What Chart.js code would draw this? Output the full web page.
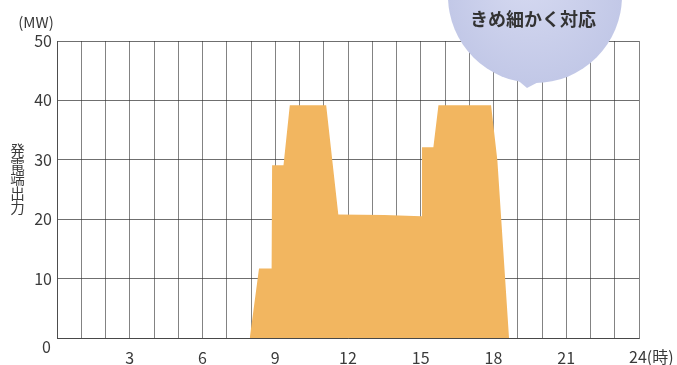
<!DOCTYPE html>
<html>
<head>
<meta charset="utf-8">
<script src="https://cdn.jsdelivr.net/npm/chart.js@4/dist/chart.umd.min.js"></script>
<style>
  html, body { margin: 0; padding: 0; background: #fff; }
  #wrap { width: 677px; height: 365px; position: relative; }
</style>
</head>
<body>
<div id="wrap"><canvas id="c" width="677" height="365"></canvas></div>
<script>
// Generation profile over a day (hour of day -> MW at the generator terminal)
const hours  = [7.95, 8.33, 8.85, 8.87, 9.34, 9.6, 11.1, 11.6, 13.5, 15.03, 15.05, 15.52, 15.73, 17.9, 18.16, 18.64];
const output = [0,    11.7, 11.7, 29.1, 29.1, 39.2, 39.2, 20.8, 20.7, 20.5, 32.1, 32.1, 39.2, 39.2, 29.9, 0];

// Axis ticks
const xTickLabels = [3, 6, 9, 12, 15, 18, 21];
const yTickLabels = [10, 20, 30, 40, 50];

// Texts
const unitLabel = '(MW)';
const yTitleChars = ['発', '電', '端', '出', '力'];
const lastHourLabel = '24(時)';
const bubbleText = 'きめ細かく対応';

const FONT = '"Noto Sans CJK JP", "Noto Sans", sans-serif';
const TEXT = '#3a3a3a';
const GRID = 'rgba(55,55,55,0.62)';

Chart.defaults.font.family = FONT;
Chart.defaults.color = TEXT;

const overlay = {
  id: 'overlay',
  afterDraw(chart) {
    const ctx = chart.ctx;
    const x = chart.scales.x, y = chart.scales.y;
    ctx.save();
    ctx.fillStyle = TEXT;

    // unit label
    ctx.font = '15px ' + FONT;
    ctx.textAlign = 'center';
    ctx.textBaseline = 'middle';
    ctx.fillText(unitLabel, 36, 22);

    // origin label, set below the axis line
    ctx.font = '16px ' + FONT;
    ctx.textAlign = 'right';
    ctx.fillText('0', 51, y.getPixelForValue(0) + 9);

    // last hour label
    ctx.textAlign = 'left';
    ctx.fillText(lastHourLabel, x.getPixelForValue(24) - 10, 357);

    // stacked vertical axis title
    ctx.font = '14.5px ' + FONT;
    ctx.textAlign = 'center';
    yTitleChars.forEach((ch, i) => ctx.fillText(ch, 17.5, 150 + i * 14.4));

    // speech bubble
    const cx = 535, cy = -4, r = 87;
    const g = ctx.createRadialGradient(cx - 10, cy - 20, 10, cx, cy, r);
    g.addColorStop(0, 'rgb(212,216,240)');
    g.addColorStop(1, 'rgb(194,200,231)');
    ctx.fillStyle = g;
    ctx.beginPath();
    ctx.arc(cx, cy, r, 0, Math.PI * 2);
    ctx.fill();
    ctx.beginPath();
    ctx.moveTo(508, 72);
    ctx.lineTo(527, 88);
    ctx.lineTo(546, 78);
    ctx.closePath();
    ctx.fill();

    ctx.fillStyle = '#333';
    ctx.font = 'bold 18px ' + FONT;
    ctx.textAlign = 'center';
    ctx.fillText(bubbleText, 533, 19);
    ctx.restore();
  }
};

new Chart(document.getElementById('c'), {
  type: 'line',
  data: {
    datasets: [{
      data: hours.map((h, i) => ({ x: h, y: output[i] })),
      fill: 'origin',
      backgroundColor: 'rgb(242,182,96)',
      borderWidth: 0,
      pointRadius: 0,
      tension: 0
    }]
  },
  options: {
    responsive: false,
    animation: false,
    layout: { padding: { left: 0, right: 38, top: 41, bottom: 0 } },
    plugins: { legend: { display: false }, tooltip: { enabled: false } },
    scales: {
      x: {
        type: 'linear',
        min: 0, max: 24,
        z: 1,
        afterFit(s) { s.height = 27; },
        grid: { color: GRID, lineWidth: 1, drawTicks: false },
        border: { color: 'rgba(60,60,60,0.75)', width: 1 },
        ticks: {
          stepSize: 1,
          autoSkip: false,
          maxRotation: 0,
          padding: 10,
          font: { size: 16 },
          color: TEXT,
          callback: v => xTickLabels.includes(v) ? String(v) : ''
        }
      },
      y: {
        min: 0, max: 50,
        z: 1,
        afterFit(s) { s.width = 57; },
        grid: { color: 'rgba(50,50,50,0.7)', lineWidth: 1, drawTicks: false },
        border: { color: 'rgba(60,60,60,0.75)', width: 1 },
        ticks: {
          stepSize: 10,
          padding: 5,
          font: { size: 16 },
          color: TEXT,
          callback: v => yTickLabels.includes(v) ? String(v) : ''
        }
      }
    }
  },
  plugins: [overlay]
});
</script>
</body>
</html>
